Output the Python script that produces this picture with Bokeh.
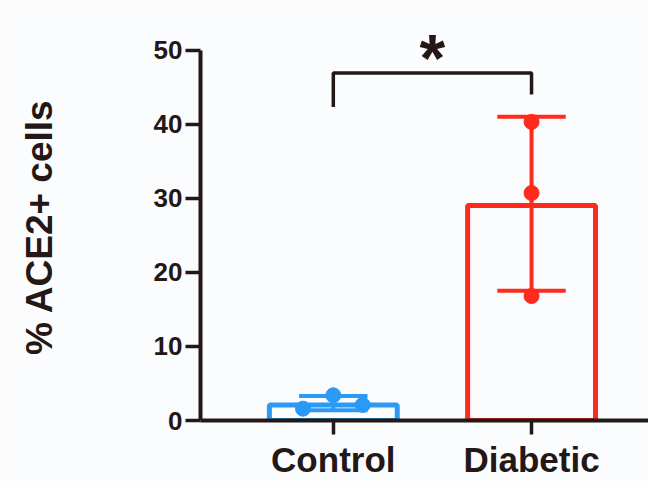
from bokeh.plotting import figure
from bokeh.models import FixedTicker, Range1d, Label
from bokeh.core.properties import value
from bokeh.embed import file_html
from bokeh.resources import INLINE

# ---- data ----
groups = ["Control", "Diabetic"]
bar_heights = [2.1, 29.0]
err_low = [1.4, 17.5]
err_high = [3.3, 41.0]
control_points = [1.6, 3.4, 2.1]
diabetic_points = [40.3, 30.7, 16.8]
y_ticks = [0, 10, 20, 30, 40, 50]
y_label = "% ACE2+ cells"
sig_text = "*"

# ---- styling / layout ----
colors = ["#2b9af4", "#fe2a1b"]
dark = "#231815"
bg = "#fbfcfe"
font = "Liberation Sans"
pos = [i + 1 for i in range(len(groups))]
control_offsets = [-0.153, 0.0, 0.148]
diabetic_offsets = [0.0, 0.0, 0.0]
bar_w = 0.645
cap_w = 0.345

p = figure(width=648, height=481, output_backend="svg", toolbar_location=None,
           x_range=Range1d(0.330, 2.590), y_range=Range1d(0, 52.23),
           min_border_left=200, min_border_right=0, min_border_top=33,
           min_border_bottom=61)
p.background_fill_color = bg
p.border_fill_color = bg
p.outline_line_color = None
p.grid.visible = False

# bars
p.vbar(x=pos, top=bar_heights, width=bar_w, bottom=0, fill_color=None,
       line_color=colors, line_width=5)

# error bars
p.segment(x0=pos, y0=err_low, x1=pos, y1=err_high, line_color=colors, line_width=4)
p.segment(x0=[x - cap_w / 2 for x in pos], y0=err_low,
          x1=[x + cap_w / 2 for x in pos], y1=err_low, line_color=colors, line_width=4)
p.segment(x0=[x - cap_w / 2 for x in pos], y0=err_high,
          x1=[x + cap_w / 2 for x in pos], y1=err_high, line_color=colors, line_width=4)

# individual points
p.scatter(x=[pos[0] + o for o in control_offsets], y=control_points, size=15,
          fill_color=colors[0], line_color=colors[0])
p.scatter(x=[pos[1] + o for o in diabetic_offsets], y=diabetic_points, size=15,
          fill_color=colors[1], line_color=colors[1])

# significance bracket
bracket_y = 46.9
p.line(x=[pos[0], pos[0], pos[1], pos[1]], y=[42.3, bracket_y, bracket_y, 44.0],
       line_color=dark, line_width=3.5)
p.add_layout(Label(x=(pos[0] + pos[1]) / 2, y=48.9, text=sig_text,
                   text_font=font, text_font_style="bold", text_font_size="66px",
                   text_color=dark, text_align="center", text_baseline="alphabetic"))

# axes
p.yaxis.ticker = FixedTicker(ticks=y_ticks)
p.yaxis.bounds = (0, 50)
p.yaxis.axis_label = y_label
p.yaxis.axis_label_text_font = font
p.yaxis.axis_label_text_font_style = "bold"
p.yaxis.axis_label_text_font_size = "37px"
p.yaxis.axis_label_text_color = dark
p.yaxis.axis_label_standoff = 91
p.yaxis.major_label_text_font_size = "26px"
p.yaxis.major_tick_out = 15
p.yaxis.major_label_standoff = 3

p.xaxis.ticker = FixedTicker(ticks=pos)
p.xaxis.major_label_overrides = {x: g for x, g in zip(pos, groups)}
p.xaxis.major_label_text_font_size = "35px"
p.xaxis.major_tick_out = 14
p.xaxis.major_label_standoff = 5

for ax in (p.xaxis, p.yaxis):
    ax.axis_line_color = dark
    ax.axis_line_width = 4
    ax.major_tick_line_color = dark
    ax.major_tick_line_width = 3.5
    ax.major_tick_in = 0
    ax.minor_tick_line_color = None
    ax.major_label_text_font = font
    ax.major_label_text_font_style = "bold"
    ax.major_label_text_color = dark

open("out.html", "w").write(file_html(p, INLINE))
